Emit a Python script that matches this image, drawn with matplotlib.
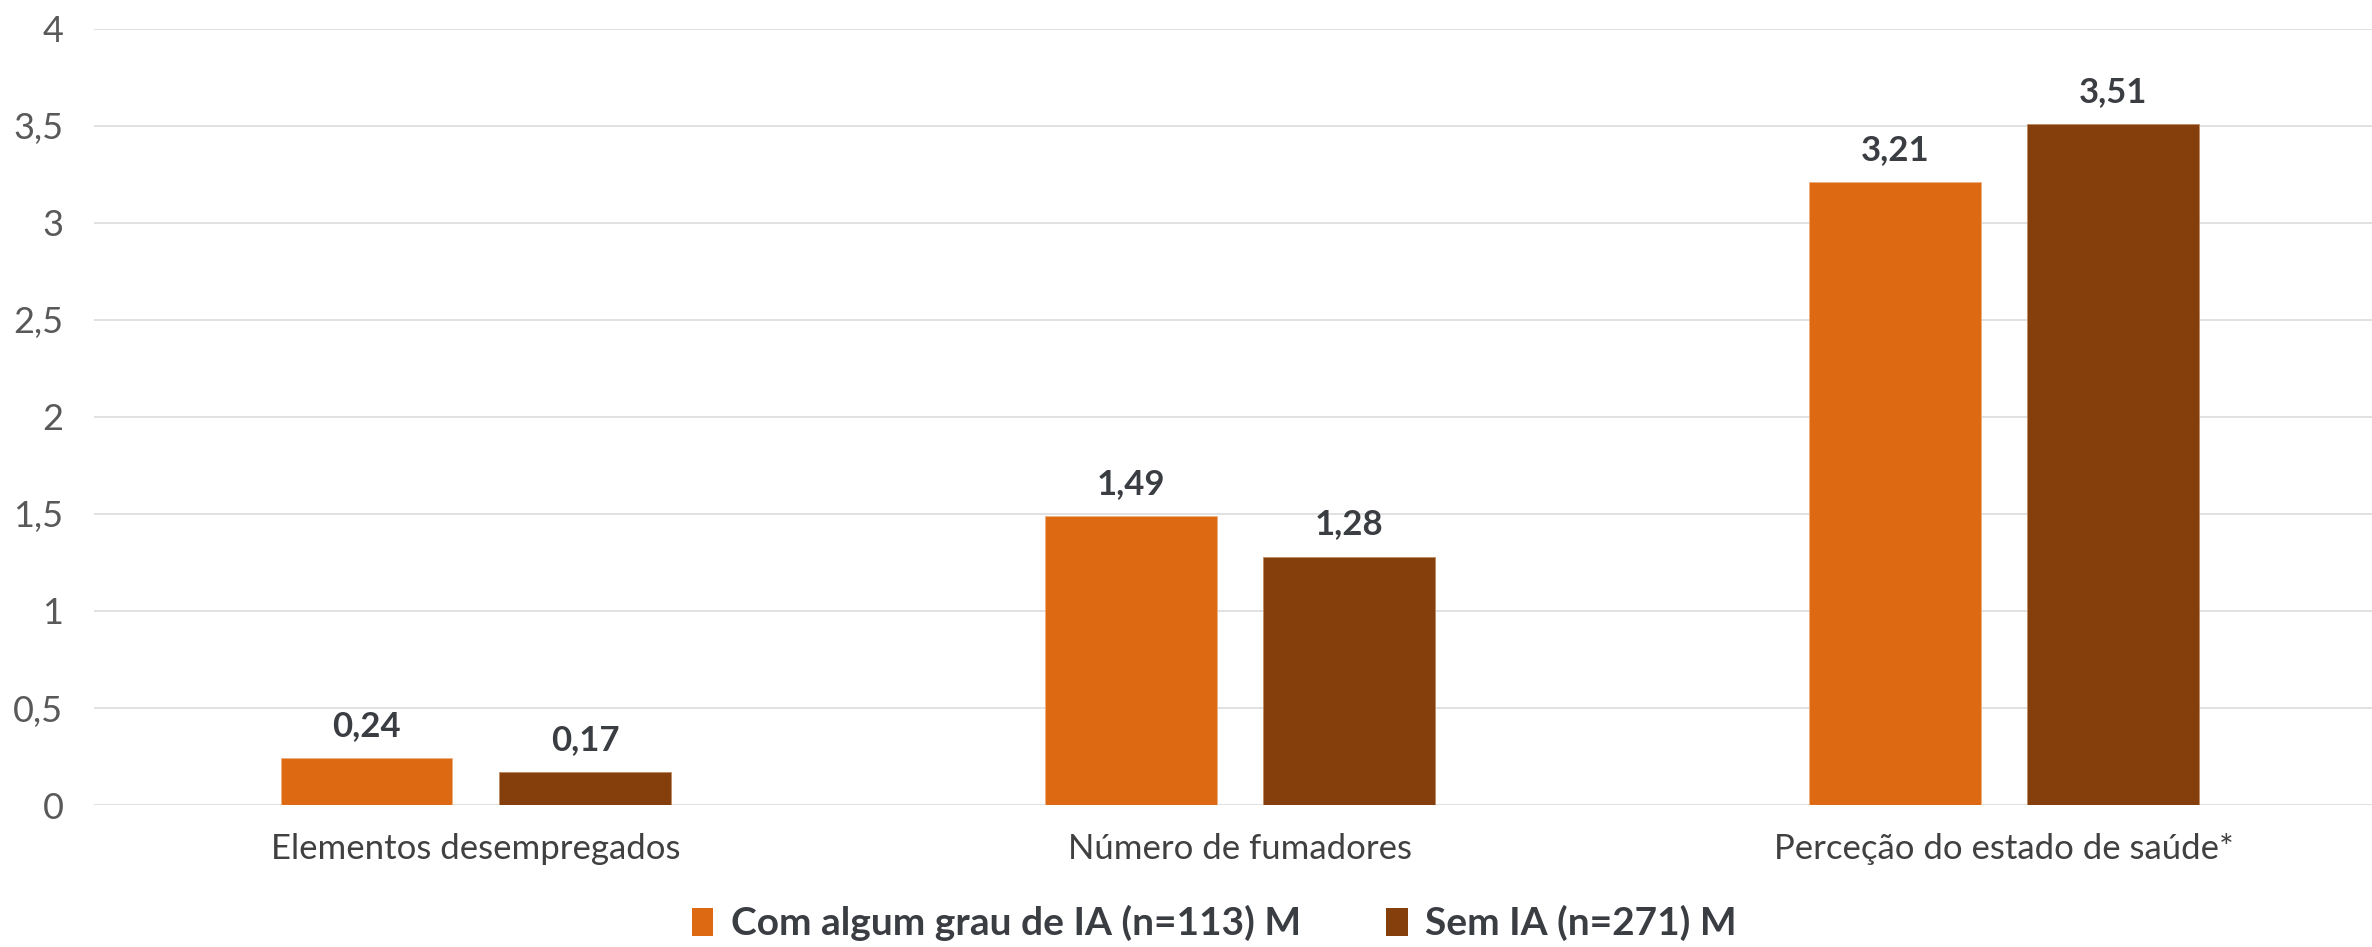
import matplotlib
matplotlib.use("Agg")
import matplotlib.pyplot as plt
from matplotlib.patches import Patch
import numpy as np

# Categories and group means
categories = ["Elementos desempregados", "Número de fumadores", "Perceção do estado de saúde*"]
com_ia = [0.24, 1.49, 3.21]
sem_ia = [0.17, 1.28, 3.51]
series_names = ["Com algum grau de IA (n=113) M", "Sem IA (n=271) M"]
yticks = [0, 0.5, 1, 1.5, 2, 2.5, 3, 3.5, 4]

ORANGE = "#DD6A12"
BROWN = "#843F0C"

plt.rcParams["font.family"] = ["Lato", "DejaVu Sans"]

fig = plt.figure(figsize=(23.72, 9.47), dpi=100)
ax = fig.add_axes([0.0396, 0.1499, 0.9604, 0.8198])

x = np.arange(len(categories))
offset = 0.1427
width = 0.224

bars1 = ax.bar(x - offset, com_ia, width, color=ORANGE, edgecolor="#f0b080", linewidth=0.6, zorder=3)
bars2 = ax.bar(x + offset, sem_ia, width, color=BROWN, edgecolor="#c08a60", linewidth=0.6, zorder=3)

for bars, vals in ((bars1, com_ia), (bars2, sem_ia)):
    for b, v in zip(bars, vals):
        ax.annotate(f"{v:.2f}".replace(".", ","),
                    (b.get_x() + b.get_width() / 2, v),
                    xytext=(0, 16), textcoords="offset points",
                    ha="center", va="baseline",
                    fontsize=25, fontweight="bold", color="#3a3d42")

ax.set_xlim(-0.5, -0.5 + 2278 / 764)
ax.set_ylim(0, 4)
ax.set_yticks(yticks)
ax.set_yticklabels([f"{t:g}".replace(".", ",") for t in yticks])
ax.set_xticks(x)
ax.set_xticklabels(categories)

ax.grid(axis="y", color="#d9d9d9", linewidth=1.1, zorder=0)
ax.set_axisbelow(True)
for s in ax.spines.values():
    s.set_visible(False)

ax.tick_params(axis="y", length=0, pad=22, labelsize=26, labelcolor="#595959")
ax.tick_params(axis="x", length=0, pad=20, labelsize=25, labelcolor="#404040")

handles = [Patch(facecolor=ORANGE), Patch(facecolor=BROWN)]
leg = fig.legend(handles, series_names, loc="center", bbox_to_anchor=(0.512, 0.025),
                 ncol=2, frameon=False, fontsize=28, handlelength=0.55, handleheight=0.75,
                 handletextpad=0.45, columnspacing=2.2)
for t in leg.get_texts():
    t.set_fontweight("bold")
    t.set_color("#3a3d42")

fig.savefig("out.png", dpi=100)
